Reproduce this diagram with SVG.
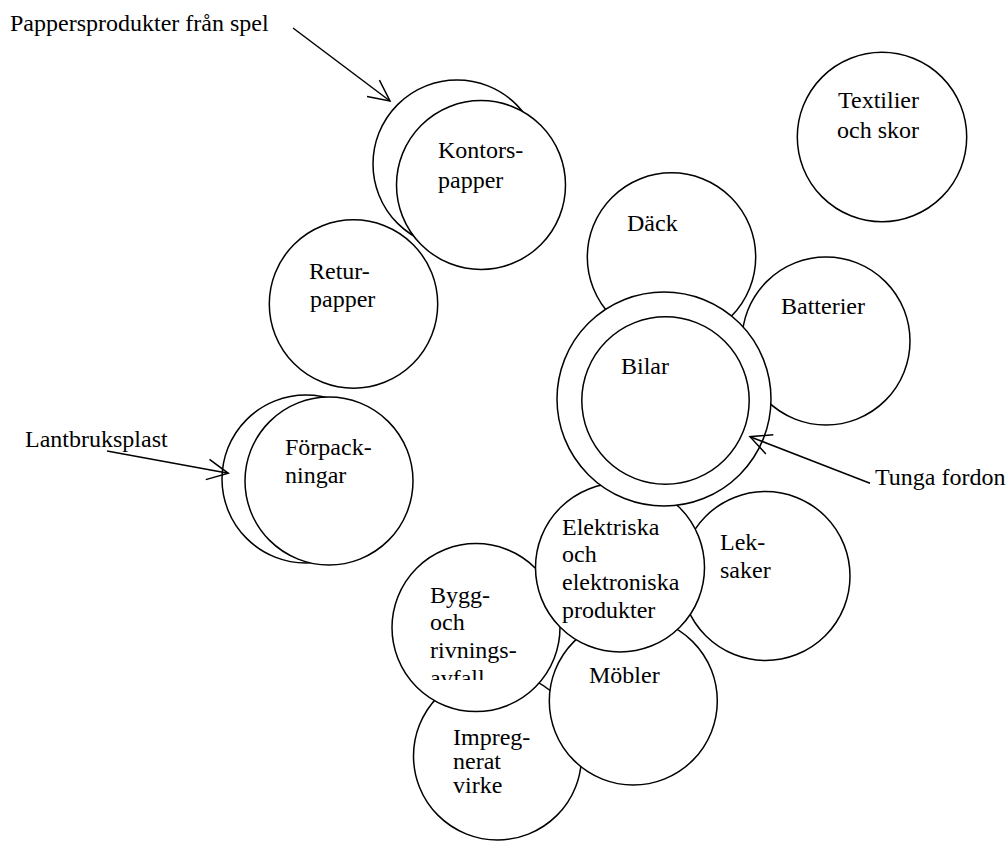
<svg xmlns="http://www.w3.org/2000/svg" width="1008" height="845" viewBox="0 0 1008 845">
<style>
.c{fill:#fff;stroke:#000;stroke-width:1.5}
.t{font-family:"Liberation Serif","Times New Roman",serif;font-size:24px;fill:#000}
.a{fill:none;stroke:#000;stroke-width:1.5}
</style>
<defs>
<marker id="ah" viewBox="-25 -15 30 30" refX="0" refY="0" markerWidth="30" markerHeight="30" markerUnits="userSpaceOnUse" orient="auto">
<path d="M-21,-10.3 L0,0 L-21,10.3" fill="none" stroke="#000" stroke-width="1.5"/>
</marker>
<clipPath id="byggclip"><rect x="380" y="540" width="200" height="140"/></clipPath>
</defs>
<rect width="1008" height="845" fill="#fff"/>

<g id="kontorspapper">
<circle class="c" cx="457" cy="164" r="84"/>
<circle class="c" cx="481" cy="185" r="84.5"/>
<text class="t" x="438" y="158">Kontors-</text>
<text class="t" x="438" y="188">papper</text>
</g>
<g id="returpapper">
<circle class="c" cx="353.5" cy="304" r="84.2"/>
<text class="t" x="309" y="279">Retur-</text>
<text class="t" x="310" y="307">papper</text>
</g>
<g id="forpackningar">
<circle class="c" cx="306" cy="479" r="84"/>
<circle class="c" cx="329" cy="481" r="84"/>
<text class="t" x="285" y="455">Förpack-</text>
<text class="t" x="285" y="483">ningar</text>
</g>
<g id="textilier">
<circle class="c" cx="882" cy="137" r="84.7"/>
<text class="t" x="838" y="108">Textilier</text>
<text class="t" x="837" y="138">och skor</text>
</g>
<g id="dack">
<circle class="c" cx="671.5" cy="257" r="84.2"/>
<text class="t" x="627" y="231">Däck</text>
</g>
<g id="batterier">
<circle class="c" cx="826" cy="341" r="84"/>
<text class="t" x="781" y="314">Batterier</text>
</g>
<g id="impregnerat">
<circle class="c" cx="497.5" cy="756" r="84"/>
<text class="t" x="453" y="745">Impreg-</text>
<text class="t" x="453" y="769">nerat</text>
<text class="t" x="453" y="793">virke</text>
</g>
<g id="mobler">
<circle class="c" cx="633.3" cy="701" r="84"/>
<text class="t" x="589" y="683">Möbler</text>
</g>
<g id="bygg">
<circle class="c" cx="476" cy="627.6" r="84"/>
<g clip-path="url(#byggclip)">
<text class="t" x="430" y="603">Bygg-</text>
<text class="t" x="430" y="630">och</text>
<text class="t" x="430" y="658">rivnings-</text>
<text class="t" x="430" y="686">avfall</text>
</g>
</g>
<g id="leksaker">
<circle class="c" cx="765.5" cy="576" r="84.5"/>
<text class="t" x="720" y="550">Lek-</text>
<text class="t" x="720" y="578">saker</text>
</g>
<g id="elektriska">
<circle class="c" cx="620" cy="567.5" r="84.5"/>
<text class="t" x="562" y="535">Elektriska</text>
<text class="t" x="562" y="562">och</text>
<text class="t" x="562" y="590">elektroniska</text>
<text class="t" x="562" y="618">produkter</text>
</g>
<g id="bilar">
<circle class="c" cx="664" cy="399" r="107"/>
<circle class="c" cx="665.5" cy="400.5" r="83.7"/>
<text class="t" x="621" y="374">Bilar</text>
</g>

<g id="labels">
<text class="t" x="10" y="31">Pappersprodukter från spel</text>
<text class="t" x="25" y="447">Lantbruksplast</text>
<text class="t" x="875" y="485">Tunga fordon</text>
</g>

<g id="connectors">
<line class="a" x1="293" y1="28" x2="390" y2="101" marker-end="url(#ah)"/>
<line class="a" x1="107" y1="451" x2="228.3" y2="473.3" marker-end="url(#ah)"/>
<line class="a" x1="870" y1="483.3" x2="750" y2="436.7" marker-end="url(#ah)"/>
</g>
</svg>
